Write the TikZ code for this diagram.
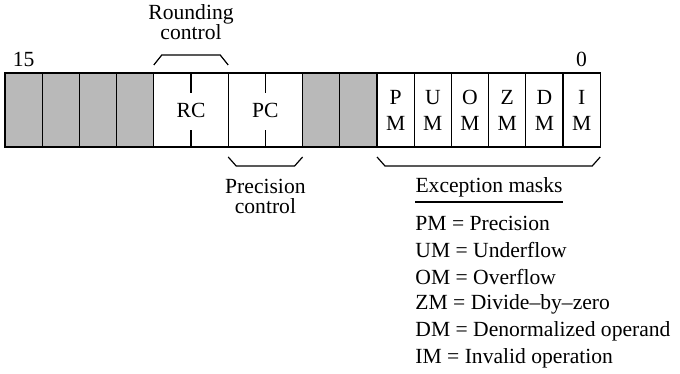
\documentclass[tikz,border=0pt]{standalone}
\usepackage{fontspec}
\setmainfont{Liberation Serif}
\usetikzlibrary{positioning,calc}
\tikzset{
  bitcell/.style={rectangle,draw=black,line width=0.6pt,outer sep=0pt,inner sep=0pt,
    minimum width=18.6pt,minimum height=37pt,font=\fontsize{10.8}{13}\selectfont,align=center},
  rsvcell/.style={bitcell,fill=gray!55},
  fieldcell/.style={bitcell,fill=white,minimum width=37.2pt},
  maskcell/.style={bitcell,fill=white},
  lbl/.style={inner sep=0pt,align=center,font=\fontsize{10.8}{10}\selectfont},
  legend/.style={inner sep=0pt,anchor=west,font=\fontsize{10.8}{13}\selectfont},
  brace/.style={line width=0.6pt},
  tick/.style={line width=0.6pt},
}

\begin{document}
\begin{tikzpicture}[x=0.5pt,y=-0.5pt]
  \useasboundingbox (0,0) rectangle (680,374);
  % the control word, bit 15 on the left
  \node[rsvcell] (b15) at (23.6,110) {};
  \node[rsvcell, right=0pt of b15] (b14) {};
  \node[rsvcell, right=0pt of b14] (b13) {};
  \node[rsvcell, right=0pt of b13] (b12) {};
  \node[fieldcell, right=0pt of b12] (rc) {RC};
  \node[fieldcell, right=0pt of rc]  (pc) {PC};
  \node[rsvcell, right=0pt of pc] (b7) {};
  \node[rsvcell, right=0pt of b7] (b6) {};
  \node[maskcell, right=0pt of b6] (pm) {P\\M};
  \node[maskcell, right=0pt of pm] (um) {U\\M};
  \node[maskcell, right=0pt of um] (om) {O\\M};
  \node[maskcell, right=0pt of om] (zm) {Z\\M};
  \node[maskcell, right=0pt of zm] (dm) {D\\M};
  \node[maskcell, right=0pt of dm] (im) {I\\M};
  \draw[tick] (rc.north) -- ++(0,20);
  \draw[tick] (rc.south) -- ++(0,-17);
  \draw[tick] (pc.north) -- ++(0,20);
  \draw[tick] (pc.south) -- ++(0,-17);
  % bit numbers
  \node[lbl] (hi) at (b15.north |- 0,59) {15};
  \node[lbl] (lo) at (im.north |- 0,59) {0};
  % braces and their captions
  \draw[brace] ($(rc.north west)+(0,-8)$) -- ($(rc.north west)+(8,-18)$)
    -- ($(rc.north east)+(-8,-18)$) -- ($(rc.north east)+(0,-8)$);
  \node[lbl] (rnd) at (rc.north |- 0,22) {Rounding\\control};
  \draw[brace] ($(pc.south west)+(0,10)$) -- ($(pc.south west)+(8,19)$)
    -- ($(pc.south east)+(-8,19)$) -- ($(pc.south east)+(0,10)$);
  \node[lbl] (prc) at (pc.south |- 0,196) {Precision\\control};
  \draw[brace] ($(pm.south west)+(0,10)$) -- ($(pm.south west)+(8,19)$)
    -- ($(im.south east)+(-8,19)$) -- ($(im.south east)+(0,10)$);
  \node[lbl] (exc) at (489,187) {Exception masks};
  \draw[brace] (exc.west |- 0,202) -- (exc.east |- 0,202);
  % legend
  \foreach \t [count=\i] in {PM = Precision, UM = Underflow, OM = Overflow,
      ZM = Divide--by--zero, DM = Denormalized operand, IM = Invalid operation}
    \node[legend] (leg\i) at (415,196+27*\i) {\t};
\end{tikzpicture}
\end{document}
